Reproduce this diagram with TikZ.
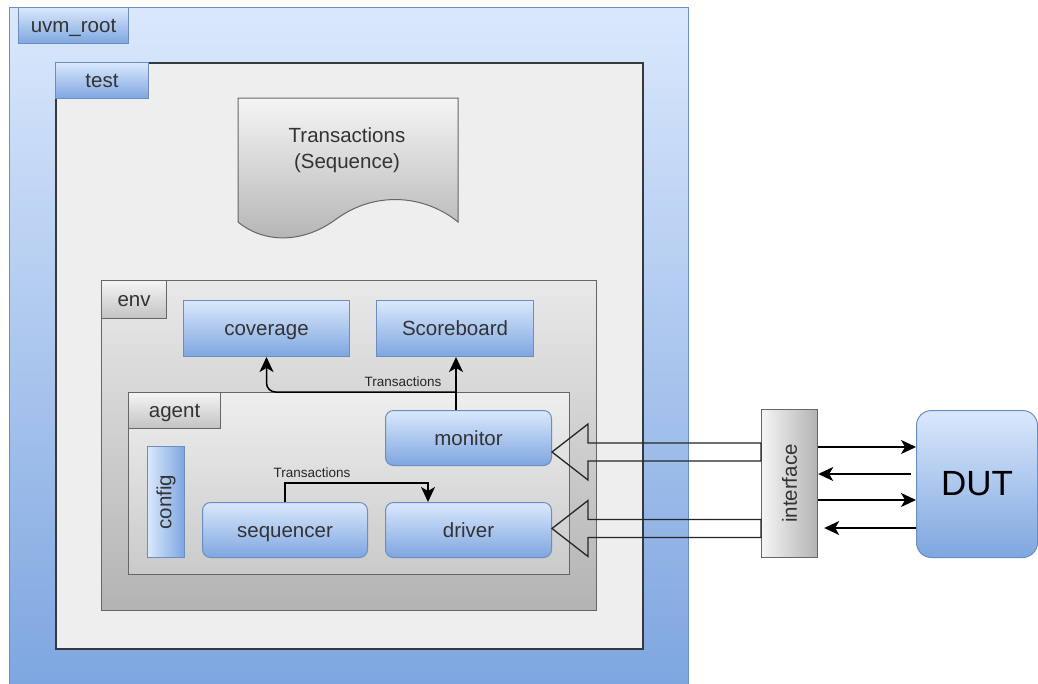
\documentclass[tikz,border=0pt]{standalone}
\usepackage{fontspec}
\setmainfont{Liberation Sans}
\usetikzlibrary{arrows.meta,calc}

\definecolor{blueA}{HTML}{DAE8FC}
\definecolor{blueB}{HTML}{7EA6E0}
\definecolor{blueLine}{HTML}{6C8EBF}
\definecolor{greyA}{HTML}{F5F5F5}
\definecolor{greyB}{HTML}{B3B3B3}
\definecolor{greyLine}{HTML}{666666}
\definecolor{txt}{HTML}{333333}
\definecolor{testFill}{HTML}{EEEEEE}
\definecolor{testLine}{HTML}{36393D}

\tikzset{
  box/.style={inner sep=0pt, anchor=north west, text=txt,
    font=\fontsize{20.5}{24}\selectfont},
  capcentre/.style={text height=14.7pt, text depth=0pt},
  bluebox/.style={box, draw=blueLine, line width=1pt,
    top color=blueA, bottom color=blueB},
  roundbox/.style={bluebox, capcentre, rounded corners=8pt},
  arr/.style={-{Stealth[length=15pt,width=14pt,inset=4pt]}, line width=1.5pt, draw=black},
  flex/.style={draw=black!85, line width=1.3pt},
  smalllbl/.style={inner sep=1pt, text=black!85,
    font=\fontsize{13.5}{15}\selectfont},
}

\begin{document}
\begin{tikzpicture}[x=1pt, y=-1pt]
\useasboundingbox (0,0) rectangle (1038,683);
\clip (0,0) rectangle (1038,683);
\fill[white] (0,0) rectangle (1038,683);

% uvm_root container
\node[bluebox, minimum width=679pt, minimum height=677pt] (root) at (9,7) {};
\node[bluebox, capcentre, minimum width=110pt, minimum height=36pt] (rootlbl) at (18,7) {uvm\_root};

% test container
\node[box, draw=testLine, line width=1.8pt, fill=testFill,
      minimum width=587pt, minimum height=586pt] (test) at (55,62) {};
\node[bluebox, capcentre, minimum width=93pt, minimum height=36pt] (testlbl) at (55,62) {test};

% sequence document
\shade[top color=greyA, bottom color=greyB, draw=greyLine, line width=1pt]
  (238,98) -- (458,98) -- (458,222)
  .. controls (425,195) and (375,190) .. (335,220)
  .. controls (300,245) and (262,242) .. (238,222) -- cycle;
\node[text=txt, align=center, font=\fontsize{20.5}{26}\selectfont] (doc) at (347,150)
  {Transactions\\(Sequence)};

% env container
\node[box, draw=greyLine, line width=1.4pt, top color=greyA!95!black, bottom color=greyB,
      minimum width=495pt, minimum height=330pt] (env) at (101,280) {};
\node[box, capcentre, draw=greyLine, line width=1.2pt, top color=greyA, bottom color=greyB!80!white,
      minimum width=65pt, minimum height=38pt] (envlbl) at (101,280) {env};

\node[bluebox, capcentre, minimum width=166pt, minimum height=56pt] (coverage) at (183,300) {coverage};
\node[bluebox, capcentre, minimum width=157pt, minimum height=56pt] (scoreboard) at (376,300) {Scoreboard};

% agent container
\node[box, draw=greyLine, line width=1.4pt, top color=testFill, bottom color=greyB!70!white,
      minimum width=441pt, minimum height=182pt] (agent) at (128,392) {};
\node[box, capcentre, draw=greyLine, line width=1.2pt, top color=greyA, bottom color=greyB!80!white,
      minimum width=92pt, minimum height=36pt] (agentlbl) at (128,392) {agent};

\node[roundbox, minimum width=166pt, minimum height=55pt] (monitor) at (385,410) {monitor};
\node[bluebox, left color=blueA, right color=blueB,
      minimum width=37pt, minimum height=111pt] (config) at (147,446) {\rotatebox{90}{config}};
\node[roundbox, minimum width=165pt, minimum height=55pt] (sequencer) at (202,502) {sequencer};
\node[roundbox, minimum width=166pt, minimum height=55pt] (driver) at (385,502) {driver};

% interface and DUT
\node[box, draw=greyLine, line width=1.2pt, left color=greyA, right color=greyB,
      minimum width=56pt, minimum height=148pt] (iface) at (761,409) {\rotatebox{90}{interface}};
\node[bluebox, rounded corners=15pt, text=black, font=\fontsize{35}{40}\selectfont,
      minimum width=121pt, minimum height=147pt] (dut) at (916,410) {DUT};

% monitor fan-out to scoreboard and coverage
\coordinate (mtap) at ($(monitor.north west)+(71,0)$);
\draw[arr] (mtap) -- (mtap |- scoreboard.south);
\draw[arr, rounded corners=9pt] (mtap |- agent.north) -- (coverage.south |- agent.north)
  -- (coverage.south);
\node[smalllbl] (tlbl1) at (403,382) {Transactions};

% sequencer to driver
\coordinate (drvin) at ($(driver.north west)+(43,0)$);
\draw[arr] (sequencer.north) -- ($(sequencer.north)+(0,-19)$) -| (drvin);
\node[smalllbl] (tlbl2) at (312,473) {Transactions};

% wide hollow arrows from the interface
\coordinate (mtip) at ($(monitor.south east)+(0,-14)$);
\coordinate (dtip) at ($(driver.east)+(0,-1.5)$);
\foreach \t in {mtip,dtip}{
  \draw[flex] (\t) -- ($(\t)+(36,-28)$) -- ($(\t)+(36,-9)$)
    -- ($(iface.west |- \t)+(0,-9)$) -- ($(iface.west |- \t)+(0,9)$)
    -- ($(\t)+(36,9)$) -- ($(\t)+(36,28)$) -- cycle;
}

% interface <-> DUT signals
\draw[arr] (iface.east |- 0,447) -- (dut.west |- 0,447);
\draw[arr] ($(dut.west |- 0,474)+(-5,0)$) -- (iface.east |- 0,474);
\draw[arr] (iface.east |- 0,500) -- (dut.west |- 0,500);
\draw[arr, shorten >=6pt] (dut.west |- 0,528) -- (iface.east |- 0,528);
\end{tikzpicture}
\end{document}
